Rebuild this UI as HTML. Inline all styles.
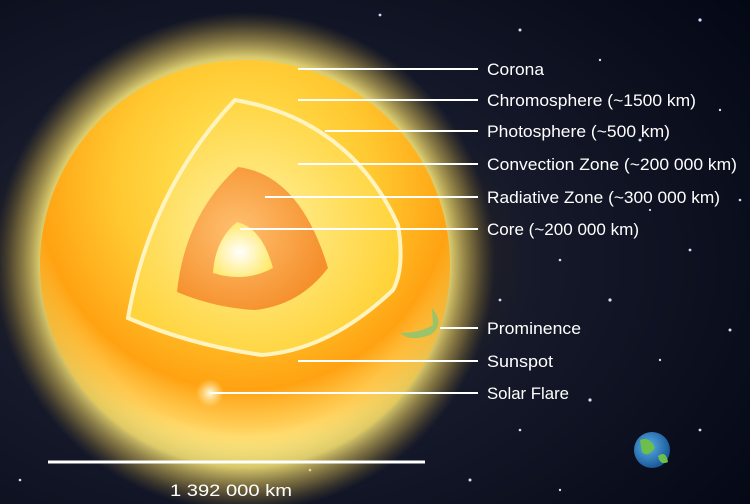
<!DOCTYPE html>
<html><head><meta charset="utf-8"><style>
html,body{margin:0;padding:0;background:#000;}
svg{display:block;}
text{font-family:"Liberation Sans",sans-serif;fill:#fff;font-size:17px;}
</style></head><body>
<svg width="750" height="504" viewBox="0 0 750 504">
<defs>
<radialGradient id="bg" cx="0.33" cy="0.52" r="0.85">
<stop offset="0" stop-color="#4a3a18"/><stop offset="0.45" stop-color="#15192a"/><stop offset="1" stop-color="#040714"/>
</radialGradient>
<radialGradient id="glow" cx="0.5" cy="0.5" r="0.5">
<stop offset="0.7" stop-color="#fff9a8" stop-opacity="1"/><stop offset="0.82" stop-color="#fbe97a" stop-opacity="0.85"/><stop offset="0.92" stop-color="#d8b850" stop-opacity="0.4"/><stop offset="1" stop-color="#a08030" stop-opacity="0"/>
</radialGradient>
<radialGradient id="disk" cx="0.5" cy="0.3" r="0.7">
<stop offset="0" stop-color="#ffec60"/><stop offset="0.45" stop-color="#ffc830"/><stop offset="0.72" stop-color="#ffa212"/><stop offset="0.85" stop-color="#ffb020" stop-opacity="0.6"/><stop offset="1" stop-color="#ffd850" stop-opacity="0"/>
</radialGradient>
<radialGradient id="conv" cx="0.45" cy="0.5" r="0.6">
<stop offset="0" stop-color="#fff2a0"/><stop offset="1" stop-color="#ffd030"/>
</radialGradient>
<radialGradient id="rad" cx="0.4" cy="0.45" r="0.6">
<stop offset="0" stop-color="#ffc070"/><stop offset="1" stop-color="#f5902c"/>
</radialGradient>
<radialGradient id="core" cx="0.45" cy="0.55" r="0.6">
<stop offset="0" stop-color="#ffffff"/><stop offset="1" stop-color="#ffe860"/>
</radialGradient>
<radialGradient id="earth" cx="0.4" cy="0.4" r="0.6">
<stop offset="0" stop-color="#5ab0e8"/><stop offset="1" stop-color="#1a5a9a"/>
</radialGradient>
<radialGradient id="flare" cx="0.5" cy="0.5" r="0.5">
<stop offset="0" stop-color="#fffbe0"/><stop offset="1" stop-color="#fff0b0" stop-opacity="0"/>
</radialGradient>
</defs>
<rect width="750" height="504" fill="url(#bg)"/>
<g fill="#cfe0ff">
<circle cx="520" cy="30" r="1.5"/><circle cx="600" cy="60" r="1.2"/><circle cx="700" cy="20" r="1.6"/><circle cx="720" cy="110" r="1.2"/><circle cx="640" cy="140" r="1.5"/><circle cx="560" cy="260" r="1.3"/><circle cx="610" cy="300" r="1.6"/><circle cx="690" cy="250" r="1.4"/><circle cx="730" cy="330" r="1.5"/><circle cx="660" cy="360" r="1.2"/><circle cx="590" cy="400" r="1.6"/><circle cx="520" cy="430" r="1.3"/><circle cx="700" cy="430" r="1.4"/><circle cx="470" cy="480" r="1.5"/><circle cx="560" cy="490" r="1.2"/><circle cx="20" cy="480" r="1.3"/><circle cx="380" cy="15" r="1.4"/><circle cx="500" cy="300" r="1.4"/><circle cx="740" cy="200" r="1.3"/><circle cx="650" cy="210" r="1.1"/><circle cx="310" cy="470" r="1.3"/>
</g>
<circle cx="245" cy="262" r="250" fill="url(#glow)"/>
<circle cx="245" cy="265" r="205" fill="url(#disk)"/>
<circle cx="210" cy="393" r="14" fill="url(#flare)"/>
<path d="M432,308 Q446,325 430,335 Q410,342 400,333 Q420,333 433,325 Z" fill="#9bc46a"/>
<path d="M235,100 Q350,120 398,225 Q405,268 393,290 Q330,350 262,355 Q190,345 128,318 Q150,190 235,100 Z" fill="url(#conv)" stroke="#fff4c0" stroke-width="4"/>
<path d="M238,167 Q300,175 328,268 Q300,305 255,310 Q215,308 177,292 Q185,215 238,167 Z" fill="url(#rad)"/>
<path d="M237,222 Q262,228 273,268 Q245,283 213,273 Q215,240 237,222 Z" fill="url(#core)"/>
<circle cx="652" cy="450" r="18" fill="url(#earth)"/>
<path d="M640,440 Q650,436 655,448 Q648,458 642,452 Z M658,456 Q666,450 668,462 Q660,466 658,456 Z" fill="#6cbf4a"/>
<g stroke="#fff" stroke-width="2">
<line x1="298" y1="69" x2="478" y2="69"/><line x1="298" y1="100" x2="478" y2="100"/><line x1="325" y1="131" x2="478" y2="131"/><line x1="298" y1="164" x2="478" y2="164"/><line x1="265" y1="197" x2="478" y2="197"/><line x1="240" y1="229" x2="478" y2="229"/><line x1="440" y1="328" x2="478" y2="328"/><line x1="298" y1="361" x2="478" y2="361"/><line x1="210" y1="393" x2="478" y2="393"/>
<line x1="48" y1="462" x2="425" y2="462" stroke-width="3"/>
</g>
<text x="487" y="75" textLength="57" lengthAdjust="spacingAndGlyphs">Corona</text>
<text x="487" y="106" textLength="209" lengthAdjust="spacingAndGlyphs">Chromosphere (~1500 km)</text>
<text x="487" y="137" textLength="183" lengthAdjust="spacingAndGlyphs">Photosphere (~500 km)</text>
<text x="487" y="170" textLength="250" lengthAdjust="spacingAndGlyphs">Convection Zone (~200 000 km)</text>
<text x="487" y="203" textLength="233" lengthAdjust="spacingAndGlyphs">Radiative Zone (~300 000 km)</text>
<text x="487" y="235" textLength="152" lengthAdjust="spacingAndGlyphs">Core (~200 000 km)</text>
<text x="487" y="334" textLength="94" lengthAdjust="spacingAndGlyphs">Prominence</text>
<text x="487" y="367" textLength="66" lengthAdjust="spacingAndGlyphs">Sunspot</text>
<text x="487" y="399" textLength="82" lengthAdjust="spacingAndGlyphs">Solar Flare</text>
<text x="170" y="496" textLength="122" lengthAdjust="spacingAndGlyphs">1 392 000 km</text>
</svg>
</body></html>
